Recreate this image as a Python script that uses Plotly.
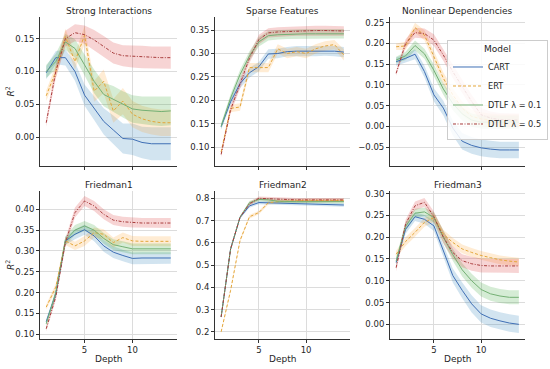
import plotly.graph_objects as go

depth = list(range(1, 15))
models = ["CART", "ERT", "DTLF λ = 0.1", "DTLF λ = 0.5"]
datasets = ["Strong Interactions", "Sparse Features", "Nonlinear Dependencies",
            "Friedman1", "Friedman2", "Friedman3"]

# Mean R^2 per dataset per model
strong_cart = [0.098, 0.121, 0.121, 0.100, 0.064, 0.044, 0.024, 0.011, -0.002, -0.003, -0.008, -0.010, -0.010, -0.010]
strong_ert = [0.063, 0.100, 0.153, 0.115, 0.155, 0.070, 0.085, 0.040, 0.055, 0.035, 0.028, 0.024, 0.022, 0.022]
strong_d01 = [0.100, 0.115, 0.145, 0.135, 0.110, 0.085, 0.065, 0.058, 0.050, 0.043, 0.041, 0.040, 0.039, 0.040]
strong_d05 = [0.022, 0.100, 0.150, 0.159, 0.156, 0.148, 0.138, 0.128, 0.124, 0.123, 0.122, 0.121, 0.121, 0.121]

sparse_cart = [0.144, 0.197, 0.236, 0.259, 0.272, 0.299, 0.300, 0.304, 0.305, 0.305, 0.305, 0.306, 0.305, 0.303]
sparse_ert = [0.090, 0.183, 0.186, 0.270, 0.270, 0.270, 0.310, 0.300, 0.304, 0.300, 0.310, 0.316, 0.319, 0.297]
sparse_d01 = [0.145, 0.205, 0.255, 0.295, 0.325, 0.338, 0.340, 0.341, 0.342, 0.342, 0.342, 0.342, 0.342, 0.342]
sparse_d05 = [0.085, 0.180, 0.235, 0.290, 0.330, 0.344, 0.346, 0.347, 0.348, 0.348, 0.349, 0.349, 0.348, 0.348]

nonlin_cart = [0.156, 0.164, 0.174, 0.132, 0.076, 0.044, -0.004, -0.036, -0.046, -0.052, -0.055, -0.057, -0.057, -0.057]
nonlin_ert = [0.192, 0.194, 0.238, 0.220, 0.168, 0.116, 0.076, 0.044, 0.024, 0.018, 0.015, 0.013, 0.013, 0.013]
nonlin_d01 = [0.160, 0.170, 0.195, 0.175, 0.135, 0.090, 0.055, 0.030, 0.015, 0.010, 0.010, 0.010, 0.010, 0.010]
nonlin_d05 = [0.128, 0.200, 0.226, 0.224, 0.208, 0.172, 0.132, 0.096, 0.060, 0.028, 0.020, 0.016, 0.015, 0.015]

f1_cart = [0.130, 0.197, 0.324, 0.340, 0.351, 0.336, 0.312, 0.297, 0.289, 0.282, 0.283, 0.283, 0.283, 0.283]
f1_ert = [0.165, 0.213, 0.324, 0.312, 0.324, 0.344, 0.340, 0.320, 0.332, 0.324, 0.323, 0.323, 0.323, 0.323]
f1_d01 = [0.125, 0.200, 0.325, 0.350, 0.360, 0.350, 0.330, 0.315, 0.310, 0.305, 0.305, 0.305, 0.305, 0.305]
f1_d05 = [0.113, 0.190, 0.320, 0.392, 0.420, 0.408, 0.388, 0.374, 0.370, 0.368, 0.367, 0.367, 0.367, 0.367]

f2_cart = [0.267, 0.572, 0.714, 0.766, 0.781, 0.780, 0.776, 0.775, 0.774, 0.773, 0.772, 0.771, 0.771, 0.770]
f2_ert = [0.200, 0.386, 0.610, 0.717, 0.736, 0.780, 0.785, 0.788, 0.789, 0.790, 0.790, 0.790, 0.790, 0.790]
f2_d01 = [0.267, 0.572, 0.715, 0.780, 0.795, 0.793, 0.787, 0.785, 0.785, 0.785, 0.785, 0.785, 0.785, 0.785]
f2_d05 = [0.267, 0.572, 0.715, 0.775, 0.800, 0.798, 0.795, 0.793, 0.793, 0.793, 0.793, 0.793, 0.793, 0.793]

f3_cart = [0.142, 0.218, 0.247, 0.241, 0.226, 0.169, 0.112, 0.078, 0.047, 0.024, 0.014, 0.008, 0.003, 0.000]
f3_ert = [0.161, 0.190, 0.211, 0.234, 0.245, 0.207, 0.188, 0.173, 0.165, 0.158, 0.153, 0.148, 0.145, 0.143]
f3_d01 = [0.145, 0.225, 0.255, 0.258, 0.245, 0.200, 0.160, 0.125, 0.100, 0.080, 0.070, 0.065, 0.062, 0.062]
f3_d05 = [0.130, 0.230, 0.272, 0.280, 0.247, 0.200, 0.165, 0.146, 0.139, 0.135, 0.134, 0.134, 0.134, 0.134]

# Half-width of the confidence bands per dataset per model
strong_err = [[0.010, 0.010, 0.012, 0.014, 0.016, 0.018, 0.020, 0.022, 0.023, 0.024, 0.024, 0.025, 0.025, 0.025],
              [0.008, 0.010, 0.012, 0.012, 0.014, 0.016, 0.018, 0.018, 0.020, 0.020, 0.020, 0.020, 0.020, 0.020],
              [0.010, 0.012, 0.012, 0.014, 0.016, 0.018, 0.018, 0.020, 0.020, 0.021, 0.021, 0.022, 0.022, 0.022],
              [0.006, 0.010, 0.012, 0.013, 0.014, 0.015, 0.016, 0.016, 0.016, 0.017, 0.017, 0.017, 0.017, 0.017]]
sparse_err = [[0.006, 0.008, 0.010, 0.010, 0.010, 0.010, 0.010, 0.010, 0.011, 0.011, 0.011, 0.011, 0.011, 0.011],
              [0.006, 0.008, 0.008, 0.010, 0.010, 0.010, 0.010, 0.010, 0.010, 0.010, 0.010, 0.010, 0.010, 0.012],
              [0.006, 0.008, 0.010, 0.010, 0.010, 0.010, 0.010, 0.010, 0.010, 0.010, 0.010, 0.010, 0.010, 0.010],
              [0.006, 0.008, 0.010, 0.010, 0.010, 0.010, 0.010, 0.010, 0.010, 0.010, 0.010, 0.010, 0.010, 0.010]]
nonlin_err = [[0.010, 0.010, 0.012, 0.014, 0.016, 0.018, 0.018, 0.020, 0.020, 0.020, 0.020, 0.020, 0.020, 0.020],
              [0.008, 0.010, 0.012, 0.012, 0.014, 0.014, 0.016, 0.016, 0.016, 0.016, 0.016, 0.016, 0.016, 0.016],
              [0.008, 0.010, 0.012, 0.012, 0.014, 0.014, 0.016, 0.016, 0.016, 0.016, 0.016, 0.016, 0.016, 0.016],
              [0.006, 0.010, 0.012, 0.012, 0.014, 0.014, 0.016, 0.016, 0.016, 0.016, 0.016, 0.016, 0.016, 0.016]]
f1_err = [[0.006, 0.008, 0.010, 0.012, 0.012, 0.013, 0.014, 0.014, 0.014, 0.014, 0.014, 0.014, 0.014, 0.014],
          [0.006, 0.008, 0.010, 0.010, 0.012, 0.012, 0.012, 0.012, 0.012, 0.012, 0.012, 0.012, 0.012, 0.012],
          [0.006, 0.008, 0.010, 0.012, 0.012, 0.012, 0.013, 0.013, 0.013, 0.013, 0.013, 0.013, 0.013, 0.013],
          [0.006, 0.008, 0.010, 0.012, 0.012, 0.012, 0.012, 0.012, 0.012, 0.012, 0.012, 0.012, 0.012, 0.012]]
f2_err = [[0.006, 0.008, 0.006, 0.008, 0.008, 0.008, 0.008, 0.008, 0.008, 0.008, 0.008, 0.008, 0.008, 0.008],
          [0.006, 0.008, 0.008, 0.008, 0.008, 0.008, 0.008, 0.008, 0.008, 0.008, 0.008, 0.008, 0.008, 0.008],
          [0.006, 0.008, 0.006, 0.008, 0.008, 0.008, 0.008, 0.008, 0.008, 0.008, 0.008, 0.008, 0.008, 0.008],
          [0.006, 0.008, 0.006, 0.008, 0.008, 0.008, 0.008, 0.008, 0.008, 0.008, 0.008, 0.008, 0.008, 0.008]]
f3_err = [[0.008, 0.010, 0.010, 0.010, 0.012, 0.014, 0.016, 0.018, 0.020, 0.020, 0.020, 0.020, 0.020, 0.020],
          [0.008, 0.010, 0.010, 0.010, 0.010, 0.010, 0.010, 0.010, 0.010, 0.010, 0.010, 0.010, 0.010, 0.010],
          [0.008, 0.010, 0.010, 0.010, 0.012, 0.014, 0.014, 0.015, 0.016, 0.016, 0.016, 0.016, 0.016, 0.016],
          [0.008, 0.010, 0.010, 0.010, 0.012, 0.014, 0.014, 0.015, 0.016, 0.016, 0.016, 0.016, 0.016, 0.016]]

all_means = [[strong_cart, strong_ert, strong_d01, strong_d05],
             [sparse_cart, sparse_ert, sparse_d01, sparse_d05],
             [nonlin_cart, nonlin_ert, nonlin_d01, nonlin_d05],
             [f1_cart, f1_ert, f1_d01, f1_d05],
             [f2_cart, f2_ert, f2_d01, f2_d05],
             [f3_cart, f3_ert, f3_d01, f3_d05]]
all_errs = [strong_err, sparse_err, nonlin_err, f1_err, f2_err, f3_err]

y_ranges = [[-0.044, 0.183], [0.060, 0.378], [-0.096, 0.264],
            [0.088, 0.444], [0.167, 0.833], [-0.034, 0.306]]
y_ticks = [[0.00, 0.05, 0.10, 0.15],
           [0.10, 0.15, 0.20, 0.25, 0.30, 0.35],
           [-0.05, 0.00, 0.05, 0.10, 0.15, 0.20, 0.25],
           [0.10, 0.15, 0.20, 0.25, 0.30, 0.35, 0.40],
           [0.2, 0.3, 0.4, 0.5, 0.6, 0.7, 0.8],
           [0.00, 0.05, 0.10, 0.15, 0.20, 0.25, 0.30]]
y_fmt = [".2f", ".2f", ".2f", ".2f", ".1f", ".2f"]

line_colors = ["#3f6fb5", "#e3a63a", "#74b074", "#a83c3c"]
band_colors = ["rgba(31,119,180,0.2)", "rgba(255,160,40,0.2)",
               "rgba(44,160,44,0.2)", "rgba(214,39,40,0.2)"]
dashes = ["solid", "3px,2px", "solid", "3px,1.5px,1px,1.5px"]

W, H = 550, 369
col_px = [(40, 177), (215, 350), (390, 525)]
row_px = [(15, 165), (190, 339)]
title_px = [9, 184]

FONT = "DejaVu Sans"
TXT = "#262626"
fig = go.Figure()
layout = dict(
    width=W, height=H,
    margin=dict(l=0, r=0, t=0, b=0),
    paper_bgcolor="white", plot_bgcolor="white",
    font=dict(family=FONT, size=8, color=TXT),
    showlegend=True,
)
annotations = []

for k in range(6):
    r, c = divmod(k, 3)
    ax = "" if k == 0 else str(k + 1)
    xa, ya = "x" + ax, "y" + ax
    x0, x1 = col_px[c]
    t0, t1 = row_px[r]
    layout["xaxis" + ax] = dict(
        domain=[x0 / W, x1 / W], anchor=ya, range=[0.35, 14.65],
        tickvals=[5, 10], showticklabels=(r == 1),
        showgrid=True, gridcolor="#dcdcdc", gridwidth=0.8,
        showline=True, linecolor="#333333", linewidth=1,
        ticks="outside", ticklen=3, tickcolor="#333333",
        tickfont=dict(size=8.5), zeroline=False,
    )
    layout["yaxis" + ax] = dict(
        domain=[1 - t1 / H, 1 - t0 / H], anchor=xa, range=y_ranges[k],
        tickvals=y_ticks[k], tickformat=y_fmt[k],
        showgrid=True, gridcolor="#dcdcdc", gridwidth=0.8,
        showline=True, linecolor="#333333", linewidth=1,
        ticks="outside", ticklen=3, tickcolor="#333333",
        tickfont=dict(size=8.5), zeroline=False,
    )
    annotations.append(dict(
        text=datasets[k], xref="paper", yref="paper",
        x=(x0 + x1) / 2 / W, y=1 - title_px[r] / H, xanchor="center", yanchor="middle",
        showarrow=False, font=dict(size=9.0, family=FONT, color=TXT, weight="normal"),
    ))
    if r == 1:
        annotations.append(dict(
            text="Depth", xref="paper", yref="paper",
            x=(x0 + x1) / 2 / W, y=1 - 359 / H, xanchor="center", yanchor="middle",
            showarrow=False, font=dict(size=9.0, family=FONT, color=TXT, weight="normal"),
        ))
    if c == 0:
        annotations.append(dict(
            text="<i>R</i><sup>2</sup>", xref="paper", yref="paper",
            x=10 / W, y=1 - ((t0 + t1) / 2) / H, xanchor="center", yanchor="middle",
            textangle=-90, showarrow=False,
            font=dict(size=9.0, family=FONT, color=TXT, weight="normal"),
        ))
    for m in range(4):
        mean = all_means[k][m]
        err = all_errs[k][m]
        upper = [v + e for v, e in zip(mean, err)]
        lower = [v - e for v, e in zip(mean, err)]
        fig.add_trace(go.Scatter(
            x=depth + depth[::-1], y=upper + lower[::-1], fill="toself",
            fillcolor=band_colors[m], line=dict(width=0), mode="lines",
            hoverinfo="skip", showlegend=False, xaxis=xa, yaxis=ya,
        ))
    for m in range(4):
        fig.add_trace(go.Scatter(
            x=depth, y=all_means[k][m], mode="lines", name=models[m],
            line=dict(color=line_colors[m], width=1, dash=dashes[m]),
            showlegend=(k == 0), legendgroup=models[m], xaxis=xa, yaxis=ya,
        ))

layout["annotations"] = annotations
layout["legend"] = dict(
    x=548 / W, y=1 - 38 / H, xanchor="right", yanchor="top",
    bgcolor="rgba(255,255,255,0.85)", bordercolor="#cccccc", borderwidth=1,
    font=dict(size=8.2, family=FONT, color=TXT),
    title=dict(text="Model", side="top center", font=dict(size=9)),
    itemwidth=30, tracegroupgap=0,
)
fig.update_layout(**layout)
fig.write_html("out.html", config={"displayModeBar": False},
               post_script="document.body.style.margin='0px';")
